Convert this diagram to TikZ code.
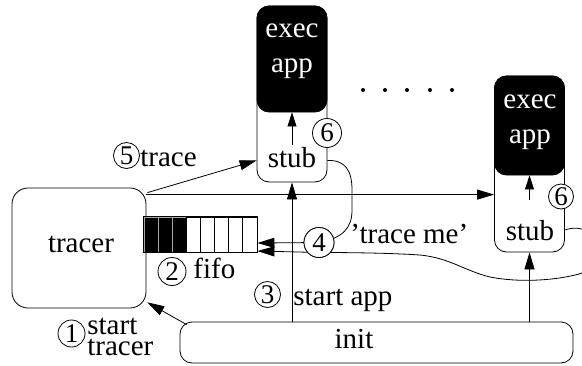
\documentclass[tikz,border=0pt]{standalone}
\usepackage{fontspec}
\setmainfont{Liberation Serif}
\usetikzlibrary{arrows.meta,calc}
\begin{document}
\begin{tikzpicture}[x=1pt,y=-1pt, line width=0.8pt,
  every node/.style={font=\fontsize{29}{30}\selectfont},
  box/.style={draw, inner sep=0pt, rounded corners=12pt},
  num/.style={draw, circle, fill=white, inner sep=0pt, font=\fontsize{27}{27}\selectfont},
  txt/.style={anchor=base west, inner sep=0pt},
  ctxt/.style={anchor=base, inner sep=0pt},
  arr/.style={-{Triangle[length=17pt,width=10pt]}},
  iarr/.style={-{Triangle[length=14pt,width=9pt]}}]
\useasboundingbox (0,0) rectangle (582,365);
\clip (0,0) rectangle (582,365);
% boxes
\node[box, rounded corners=16pt, minimum width=134pt, minimum height=120pt] (tracer) at (79,248) {};
\node[ctxt] (tracertxt) at (81,252) {tracer};
\node[box, minimum width=70pt, minimum height=176pt] (stub1) at (292,94) {};
\node[box, fill=black, minimum width=70pt, minimum height=106pt] (exec1) at (292,59) {};
\node[ctxt, text=white] (exec1a) at (292,37) {exec};
\node[ctxt, text=white] (exec1b) at (292,72) {app};
\node[ctxt] (stub1txt) at (292,167) {stub};
\node[box, minimum width=70pt, minimum height=176pt] (stub2) at (529.5,164) {};
\node[box, fill=black, minimum width=70pt, minimum height=99pt] (exec2) at (529.5,125.5) {};
\node[ctxt, text=white] (exec2a) at (530,108) {exec};
\node[ctxt, text=white] (exec2b) at (530,143) {app};
\node[ctxt] (stub2txt) at (530,240) {stub};
\node[box, minimum width=393pt, minimum height=41pt] (init) at (376.5,342.5) {};
\node[ctxt] (inittxt) at (354,348) {init};
% fifo
\node[inner sep=0pt, minimum width=113pt, minimum height=35pt] (fifo) at (200.5,234.5) {};
\foreach \i in {0,1,2} \draw[fill=black, draw=gray!70] ({144+14.125*\i},217) rectangle ({144+14.125*(\i+1)},252);
\foreach \i in {3,...,7} \draw ({144+14.125*\i},217) rectangle ({144+14.125*(\i+1)},252);
\draw (fifo.north west) rectangle (fifo.south east);
% dots
\foreach \x in {363,385,407,430,452} \fill (\x,90) circle (2pt);
% circled number 4 (reference point for connectors)
\node[num, minimum size=30pt] (c4) at (319,242.5) {4};
% connectors
\coordinate (h) at ($(tracer.north east)+(0,7)$);
\draw[arr] (h) -- (h -| stub2.west);
\draw[arr] ($(tracer.north east)+(1,5)$) -- ($(stub1.south west)+(0,-22)$);
\draw[arr] ($(init.north west)+(7,3)$) -- ($(tracer.south east)+(1,-6)$);
\draw[arr] (init.north -| stub1.south) -- (stub1.south);
\draw[arr] (init.north -| stub2.south) -- (stub2.south);
\draw[iarr] ($(stub1.south)+(0,-37)$) -- (exec1.south);
\draw[iarr] ($(stub2.south)+(0,-52)$) -- (exec2.south);
\draw[arr] ($(stub1.south east)+(0,-22)$) .. controls (345,160) and (352,170) .. (352,190) -- (352,210) .. controls (352,228) and (343,238) .. (c4.center) -- ($(fifo.east)+(0,8.5)$);
\draw[arr] ($(stub2.east)+(0,66)$) .. controls (600,218) and (612,268) .. (575,275) .. controls (555,280) and (520,283) .. (490,277) .. controls (465,271) and (450,258) .. (420,255) .. controls (390,253) and (350,252.5) .. ($(c4.center)+(0,10)$) -- ($(fifo.east)+(0,16.5)$);
% circles on top
\node[num, minimum size=30pt] (c4b) at (c4) {4};
\node[num, minimum size=26pt] (c5) at (126.5,155.5) {5};
\node[num, minimum size=28pt] (c2) at (172,271.5) {2};
\node[num, minimum size=26pt] (c3) at (267.5,294.5) {3};
\node[num, minimum size=27pt] (c1) at (71.5,333.5) {1};
\node[num, minimum size=29pt] (c6a) at (327,133) {6};
\node[num, minimum size=25pt] (c6b) at (561,196.5) {6};
% labels
\node[txt] (l5) at (140,166) {trace};
\node[txt] (l2) at (193,278) {fifo};
\node[txt] (l3) at (293,305) {start app};
\node[txt] (l1a) at (87,334) {start};
\node[txt] (l1b) at (87,355) {tracer};
\node[txt] (l4) at (350,243) {'trace me'};
\end{tikzpicture}
\end{document}
